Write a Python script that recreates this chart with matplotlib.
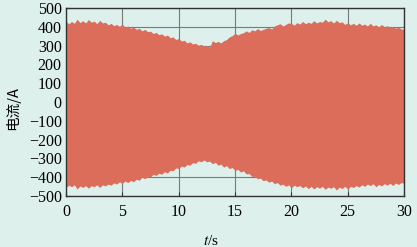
import numpy as np
import matplotlib
matplotlib.use("Agg")
import matplotlib.pyplot as plt

# envelope of the current signal, every 0.25 s
upper = [430, 415, 428, 418, 440, 422, 432, 420, 438, 424,
         430, 416, 434, 420, 424, 410, 418, 406, 412, 402,
         414, 398, 404, 392, 398, 386, 392, 378, 386, 374,
         376, 364, 370, 358, 362, 350, 356, 342, 346, 332,
         338, 324, 328, 314, 320, 308, 312, 302, 306, 298,
         300, 292, 326, 316, 322, 314, 326, 332, 346, 352,
         366, 356, 364, 368, 378, 370, 384, 378, 390, 380,
         386, 392, 396, 388, 404, 410, 416, 404, 412, 420,
         418, 408, 422, 414, 428, 416, 424, 418, 432, 420,
         428, 424, 440, 426, 432, 420, 434, 422, 426, 412,
         422, 410, 418, 408, 420, 408, 414, 404, 418, 404,
         410, 400, 412, 400, 406, 396, 402, 392, 398, 388, 386]
lower = [-455, -442, -450, -440, -462, -446, -454, -444, -458, -444,
         -450, -440, -454, -440, -446, -436, -442, -430, -436, -424,
         -432, -420, -428, -416, -424, -410, -416, -400, -408, -394,
         -398, -384, -390, -378, -384, -370, -378, -362, -366, -350,
         -354, -340, -346, -332, -336, -322, -326, -312, -318, -308,
         -318, -314, -328, -320, -336, -330, -346, -338, -354, -348,
         -364, -358, -372, -366, -382, -380, -396, -394, -408, -404,
         -418, -414, -426, -420, -434, -428, -442, -436, -448, -440,
         -456, -442, -450, -444, -456, -446, -460, -448, -462, -450,
         -458, -448, -464, -452, -458, -450, -468, -452, -460, -448,
         -462, -448, -454, -444, -452, -440, -448, -436, -444, -434,
         -450, -438, -446, -434, -442, -432, -444, -430, -438, -428, -432]
t = np.arange(len(upper)) * 0.25

xticks = [0, 5, 10, 15, 20, 25, 30]
yticks = [-500, -400, -300, -200, -100, 0, 100, 200, 300, 400, 500]

bg = '#ddf0ec'
fill_color = '#db6d5a'

plt.rcParams['mathtext.fontset'] = 'stix'
plt.rcParams['axes.unicode_minus'] = True

fig = plt.figure(figsize=(4.17, 2.47), dpi=100, facecolor=bg)
ax = fig.add_axes([0.158, 0.206, 0.811, 0.762])
ax.set_facecolor(bg)

ax.grid(True, color='#7a7a7a', linewidth=0.8, zorder=0)
ax.fill_between(t, lower, upper, color=fill_color, linewidth=0, zorder=2)

ax.set_xlim(0, 30)
ax.set_ylim(-500, 500)
ax.set_xticks(xticks)
ax.set_yticks(yticks)
ax.tick_params(direction='in', length=3, width=0.8, color='#333333',
               labelsize=11.5, pad=3)
ax.tick_params(axis='x', pad=6)
for lab in ax.get_xticklabels() + ax.get_yticklabels():
    lab.set_family('Liberation Serif')
for s in ax.spines.values():
    s.set_color('#333333')
    s.set_linewidth(1.0)
    s.set_zorder(3)

ax.set_ylabel('电流/A', family=['Noto Sans CJK SC', 'Liberation Serif'], fontsize=10.5)
ax.yaxis.set_label_coords(-0.136, 0.47)
ax.set_xlabel(r'$t$/s', family='Liberation Serif', fontsize=11)
ax.xaxis.set_label_coords(0.43, -0.2)

fig.savefig('out.png', dpi=100, facecolor=bg)
